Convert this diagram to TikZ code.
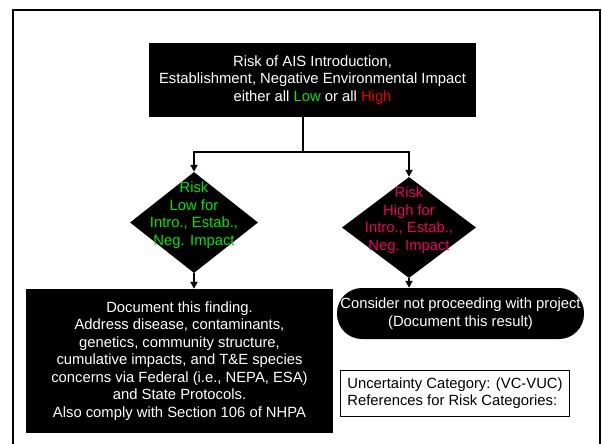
\documentclass[tikz,border=0pt]{standalone}
\usepackage{fontspec}
\setmainfont{Liberation Sans}
\usepackage{tikz}
\usetikzlibrary{arrows.meta, shapes.geometric}

\definecolor{lowgreen}{RGB}{0,230,0}
\definecolor{highred}{RGB}{235,0,0}
\definecolor{highpink}{RGB}{235,0,95}

\tikzset{
  txt/.style = {font = \fontsize{14.8}{17.5}\selectfont, align = center, inner sep = 0pt},
  blackbox/.style = {txt, rectangle, fill = black, text = white},
  decision/.style = {diamond, fill = black, inner sep = 0pt},
  link/.style = {line width = 2.2pt},
  arrow/.style = {link, -{Triangle[length = 7pt, width = 7pt]}}
}

\begin{document}
\begin{tikzpicture}[x = 1pt, y = -1pt]
  \useasboundingbox (0, 0) rectangle (602, 444);
  \draw[line width = 2pt] (13, 444) -- (13, 10) -- (600, 10) -- (600, 444);

  \node[blackbox, minimum width = 327pt, minimum height = 74pt] (top) at (312.5, 80)
    {Risk of AIS Introduction,\\Establishment, Negative Environmental Impact\\either all \textcolor{lowgreen}{Low} or all \textcolor{highred}{High}};

  \node[decision, minimum width = 128pt, minimum height = 101pt] (low) at (194, 222.5) {};
  \node[txt, text = lowgreen] (lowtext) at ([yshift = 7.5pt]low.center)
    {Risk\\Low for\\Intro., Estab.,\\Neg. Impact};

  \node[decision, minimum width = 134pt, minimum height = 101pt] (high) at (409, 227.5) {};
  \node[txt, text = highpink] (hightext) at ([yshift = 7.5pt]high.center)
    {Risk\\High for\\Intro., Estab.,\\Neg. Impact};

  \node[blackbox, minimum width = 307pt, minimum height = 144pt] (doc) at (179.5, 361)
    {Document this finding.\\Address disease, contaminants,\\genetics, community structure,\\cumulative impacts, and T\&E species\\concerns via Federal (i.e., NEPA, ESA)\\and State Protocols.\\Also comply with Section 106 of NHPA};

  \node[blackbox, rounded corners = 25pt, minimum width = 247pt, minimum height = 51pt] (stop) at (460.5, 313.5)
    {Consider not proceeding with project\\(Document this result)};

  \node[txt, draw, line width = 0.8pt, align = left, inner xsep = 7pt, minimum width = 226pt, minimum height = 46pt] (refs) at (455, 393)
    {Uncertainty Category: (VC-VUC)\\References for Risk Categories:};

  \coordinate (split) at (303, 152);
  \draw[link] (split |- top.south) -- (split);
  \draw[arrow] (split) -| (low.north);
  \draw[arrow] (split) -| (high.north);

  \draw[arrow] (low.south) -- (low.south |- doc.north);
  \draw[arrow] (high.south) -- (high.south |- stop.north);
\end{tikzpicture}
\end{document}
